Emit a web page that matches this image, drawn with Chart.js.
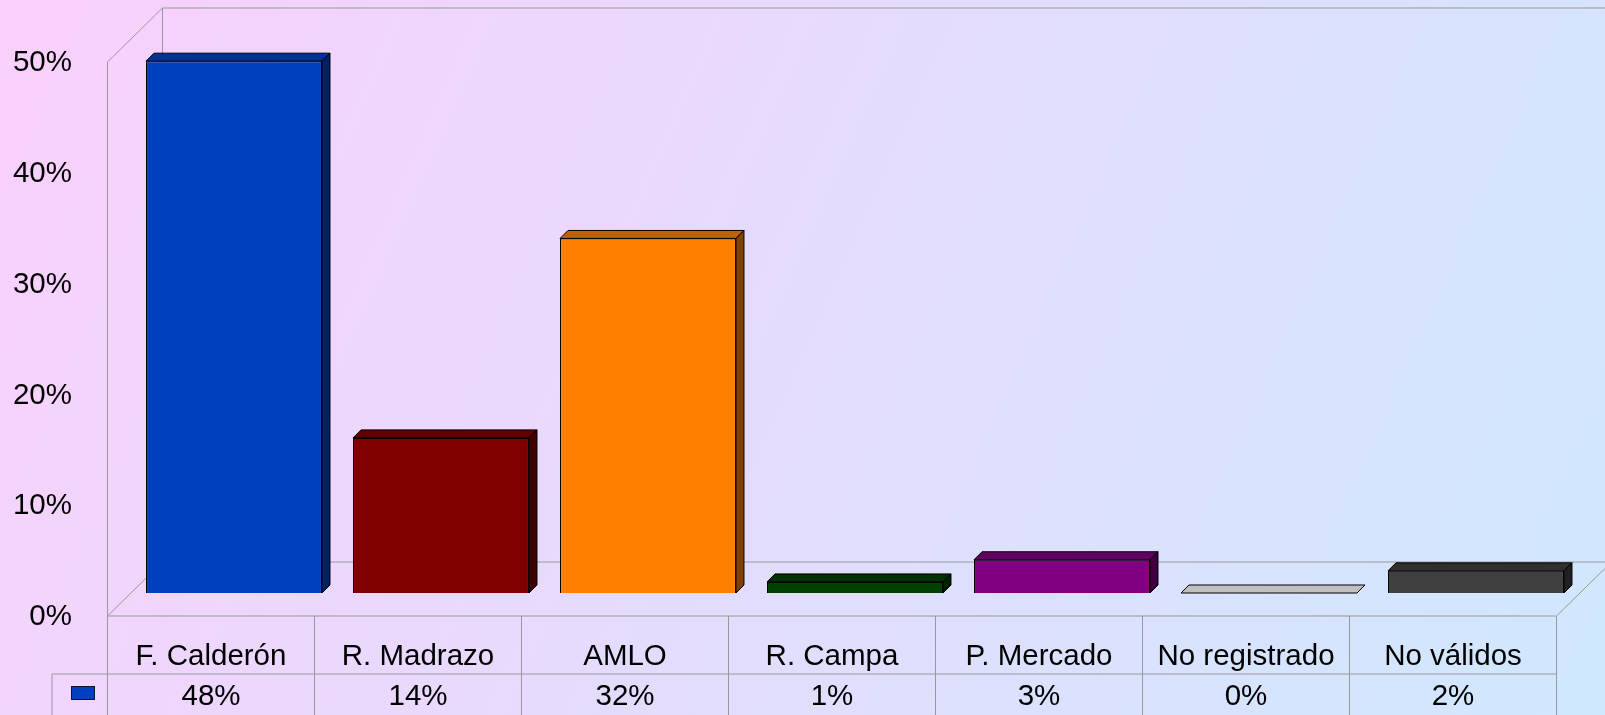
<!DOCTYPE html>
<html>
<head>
<meta charset="utf-8">
<script src="https://cdn.jsdelivr.net/npm/chart.js@4.4.0/dist/chart.umd.min.js"></script>
<style>
  html, body { margin: 0; padding: 0; overflow: hidden; }
  canvas { display: block; }
</style>
</head>
<body>
<canvas id="BarChart" width="1605" height="715"></canvas>
<script>
// data
const categories = ["F. Calderón", "R. Madrazo", "AMLO", "R. Campa", "P. Mercado", "No registrado", "No válidos"];
const votes = [48, 14, 32, 1, 3, 0, 2];
const yTicks = [0, 10, 20, 30, 40, 50];

// colours: front face, top face, side face
const frontColors = ["#0040bf", "#800000", "#ff8000", "#004000", "#800080", "#c0c0c0", "#404040"];
const topColors = ["#00309a", "#600000", "#c06000", "#003000", "#600060", "#c0c0c0", "#303030"];
const sideColors = ["#002068", "#400000", "#804000", "#002000", "#400040", "#909090", "#202020"];

const FONT = '29.5px "Liberation Sans", Arial, sans-serif';
const DEPTH = 8; // bar depth in px
const FRONT = 23; // distance from bar plane to front edge of floor
const BACK_X = 32;
const BACK_Y = 31;
const LINE = "#999999";

function line(ctx, x1, y1, x2, y2) {
  ctx.beginPath();
  ctx.moveTo(x1, y1);
  ctx.lineTo(x2, y2);
  ctx.stroke();
}

const backgroundPlugin = {
  id: "background",
  beforeDraw(chart) {
    const ctx = chart.ctx;
    const g = ctx.createLinearGradient(0, 0, chart.width, chart.height);
    g.addColorStop(0, "#f9d0fc");
    g.addColorStop(1, "#cfe8fe");
    ctx.save();
    ctx.fillStyle = g;
    ctx.fillRect(0, 0, chart.width, chart.height);
    ctx.restore();
  },
};

// walls, floor and y labels
const wallsPlugin = {
  id: "walls",
  beforeDatasetsDraw(chart) {
    const ctx = chart.ctx;
    const xs = chart.scales.x;
    const ys = chart.scales.y;
    const y0 = ys.getPixelForValue(0);
    const yMax = ys.getPixelForValue(yTicks[yTicks.length - 1]);
    const left = xs.left;
    const right = xs.right;

    ctx.save();
    ctx.strokeStyle = LINE;
    ctx.lineWidth = 1;
    // back wall
    line(ctx, left + BACK_X, yMax - BACK_Y, left + BACK_X, y0 - BACK_Y);
    line(ctx, left + BACK_X, yMax - BACK_Y, chart.width + 10, yMax - BACK_Y);
    // side wall
    line(ctx, left - FRONT, yMax + FRONT, left - FRONT, y0 + FRONT);
    line(ctx, left - FRONT, yMax + FRONT, left + BACK_X, yMax - BACK_Y);
    // floor
    line(ctx, left - FRONT, y0 + FRONT, right - FRONT, y0 + FRONT);
    line(ctx, left + BACK_X, y0 - BACK_Y, right + BACK_X, y0 - BACK_Y);
    line(ctx, left - FRONT, y0 + FRONT, left + BACK_X, y0 - BACK_Y);
    line(ctx, right - FRONT, y0 + FRONT, right + BACK_X, y0 - BACK_Y);

    // y tick labels
    ctx.fillStyle = "#000";
    ctx.font = FONT;
    ctx.textAlign = "right";
    ctx.textBaseline = "middle";
    yTicks.forEach((v) => {
      ctx.fillText(v + "%", 72, ys.getPixelForValue(v) + FRONT + 1);
    });
    ctx.restore();
  },
};

// top and side faces of the bars
const depthPlugin = {
  id: "depth",
  afterDatasetsDraw(chart) {
    const ctx = chart.ctx;
    const meta = chart.getDatasetMeta(0);
    ctx.save();
    ctx.strokeStyle = "#000";
    ctx.lineWidth = 1;
    ctx.lineJoin = "round";
    meta.data.forEach((bar, i) => {
      const p = bar.getProps(["x", "y", "base", "width"], true);
      const x1 = p.x - p.width / 2;
      const x2 = p.x + p.width / 2;
      const top = p.y;
      const bottom = p.base;

      ctx.fillStyle = topColors[i];
      ctx.beginPath();
      ctx.moveTo(x1, top);
      ctx.lineTo(x1 + DEPTH, top - DEPTH);
      ctx.lineTo(x2 + DEPTH, top - DEPTH);
      ctx.lineTo(x2, top);
      ctx.closePath();
      ctx.fill();
      ctx.stroke();

      if (bottom - top > 0.5) {
        ctx.fillStyle = sideColors[i];
        ctx.beginPath();
        ctx.moveTo(x2, top);
        ctx.lineTo(x2 + DEPTH, top - DEPTH);
        ctx.lineTo(x2 + DEPTH, bottom - DEPTH);
        ctx.lineTo(x2, bottom);
        ctx.closePath();
        ctx.fill();
        ctx.stroke();
      }
    });
    ctx.restore();
  },
};

// data table under the chart
const tablePlugin = {
  id: "table",
  afterDraw(chart) {
    const ctx = chart.ctx;
    const xs = chart.scales.x;
    const ys = chart.scales.y;
    const top = ys.getPixelForValue(0) + FRONT;
    const mid = top + 58;
    const bottom = chart.height + 5;
    const colW = (xs.right - xs.left) / categories.length;
    const left = xs.left - FRONT;

    ctx.save();
    ctx.strokeStyle = LINE;
    ctx.lineWidth = 1;
    for (let i = 0; i <= categories.length; i++) {
      line(ctx, left + i * colW, top, left + i * colW, bottom);
    }
    line(ctx, 52, mid, left + categories.length * colW, mid);
    line(ctx, 52, mid, 52, bottom);

    // legend key
    ctx.fillStyle = frontColors[0];
    ctx.fillRect(71, 686, 24, 14);
    ctx.strokeStyle = "#101030";
    ctx.strokeRect(71.5, 686.5, 23, 13);

    ctx.fillStyle = "#000";
    ctx.font = FONT;
    ctx.textAlign = "center";
    ctx.textBaseline = "alphabetic";
    categories.forEach((c, i) => {
      const cx = xs.getPixelForValue(i) - FRONT;
      ctx.fillText(c, cx, top + 49);
      ctx.fillText(votes[i] + "%", cx, mid + 31);
    });
    ctx.restore();
  },
};

const ctx = document.getElementById("BarChart").getContext("2d");
new Chart(ctx, {
  type: "bar",
  data: {
    labels: categories,
    datasets: [
      {
        label: "Votos",
        data: votes,
        backgroundColor: frontColors,
        borderColor: "#000",
        borderWidth: 1,
        categoryPercentage: 1,
        barPercentage: 0.85,
      },
    ],
  },
  options: {
    responsive: false,
    devicePixelRatio: 1,
    animation: false,
    layout: { padding: { left: 130.5, right: 25.5, top: 39, bottom: 122 } },
    plugins: { legend: { display: false }, tooltip: { enabled: false } },
    scales: {
      x: { display: false },
      y: { display: false, min: 0, max: 50 },
    },
  },
  plugins: [backgroundPlugin, wallsPlugin, depthPlugin, tablePlugin],
});
</script>
</body>
</html>
